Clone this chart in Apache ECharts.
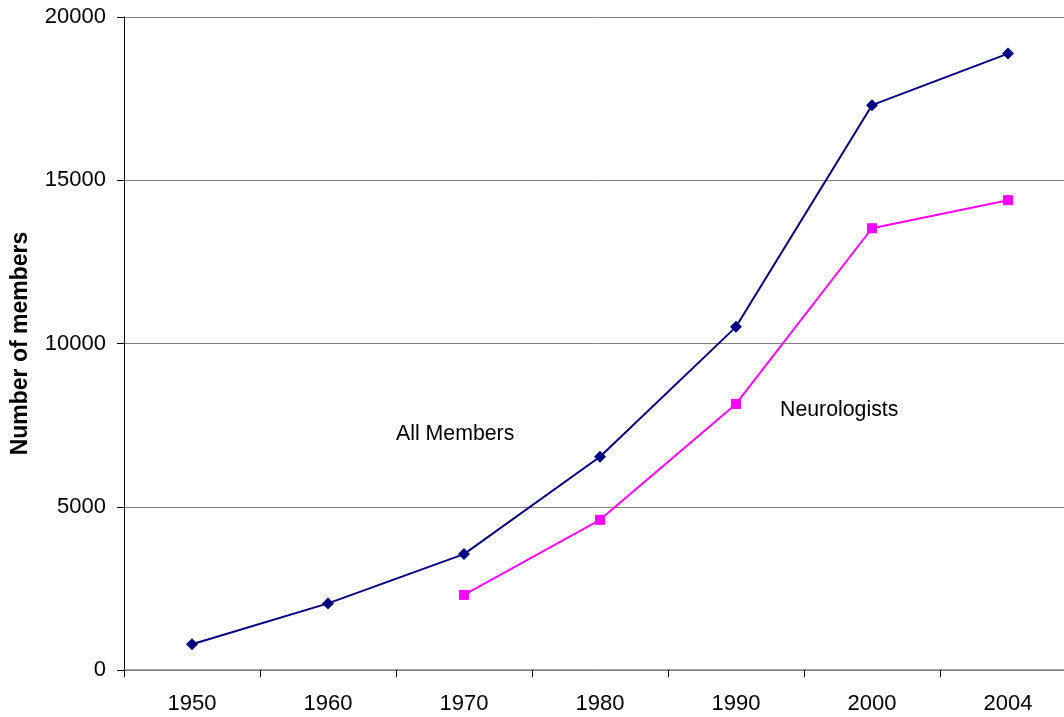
<!DOCTYPE html>
<html>
<head>
<meta charset="utf-8">
<script src="https://cdn.jsdelivr.net/npm/echarts@6/dist/echarts.min.js"></script>
<style>
  html, body { margin: 0; padding: 0; background: #fff; }
  #chart { width: 1064px; height: 717px; }
</style>
</head>
<body>
<div id="chart"></div>
<script>
// categories and series values
var years = ['1950', '1960', '1970', '1980', '1990', '2000', '2004']
var allMembers = [790, 2040, 3550, 6530, 10510, 17300, 18880]
var neurologists = ['-', '-', 2300, 4600, 8150, 13530, 14390]
var yTicks = [0, 5000, 10000, 15000, 20000]

var font = '"Liberation Sans", Arial, sans-serif'

var chart = echarts.init(document.getElementById('chart'))
chart.setOption({
  animation: false,
  grid: {
    left: 124,
    top: 17,
    width: 952, // the last category slot runs past the window edge
    height: 653,
    containLabel: false,
    outerBoundsMode: 'none'
  },
  xAxis: {
    type: 'category',
    data: years,
    boundaryGap: true,
    axisLine: { lineStyle: { color: '#808080', width: 1.5 } },
    axisTick: { show: true, length: 7, lineStyle: { color: '#000' } },
    axisLabel: { color: '#000', fontFamily: font, fontSize: 22, margin: 23 }
  },
  yAxis: {
    type: 'value',
    min: yTicks[0],
    max: yTicks[yTicks.length - 1],
    interval: 5000,
    name: 'Number of members',
    nameLocation: 'middle',
    nameGap: 92,
    nameTextStyle: { color: '#000', fontFamily: font, fontSize: 23, fontWeight: 'bold' },
    axisLine: { show: true, lineStyle: { color: '#000', width: 1 } },
    axisTick: { show: true, length: 7, lineStyle: { color: '#000' } },
    axisLabel: {
      color: '#000', fontFamily: font, fontSize: 22, margin: 18,
      formatter: function (v) { return String(v) }
    },
    splitLine: { show: true, lineStyle: { color: '#808080', width: 1 } }
  },
  series: [
    {
      name: 'All Members',
      type: 'line',
      data: allMembers,
      symbol: 'diamond',
      symbolSize: 12,
      itemStyle: { color: '#000080' },
      lineStyle: { color: '#000080', width: 2 }
    },
    {
      name: 'Neurologists',
      type: 'line',
      data: neurologists,
      symbol: 'rect',
      symbolSize: 10,
      itemStyle: { color: '#ff00ff' },
      lineStyle: { color: '#ff00ff', width: 2 }
    }
  ],
  graphic: [
    {
      type: 'text',
      left: 396,
      top: 424,
      style: { text: 'All Members', fill: '#000', font: '21.3px ' + font }
    },
    {
      type: 'text',
      left: 780,
      top: 400,
      style: { text: 'Neurologists', fill: '#000', font: '21.3px ' + font }
    }
  ]
})
</script>
</body>
</html>
